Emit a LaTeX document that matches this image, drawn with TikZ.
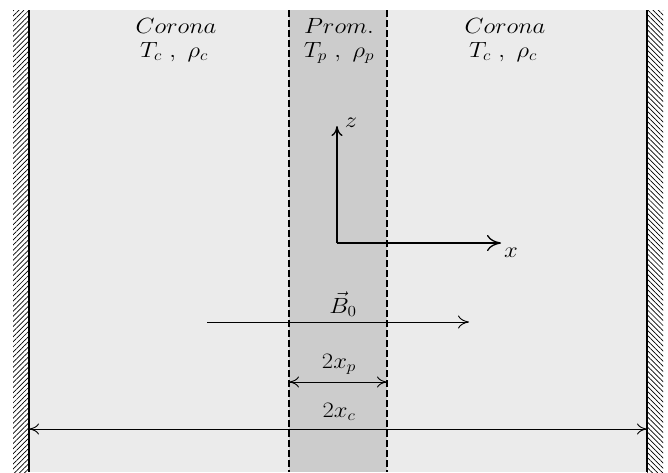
\documentclass[tikz,border=0pt]{standalone}
\usepackage{fix-cm}
\usetikzlibrary{patterns.meta,arrows.meta}
\definecolor{corbg}{HTML}{EBEBEB}
\definecolor{prombg}{HTML}{CCCCCC}
\newcommand{\wtxt}[1]{\scalebox{1.12}[1]{#1}}
\begin{document}
\begin{tikzpicture}[x=1pt,y=-1pt,
  lbl/.style={font=\fontsize{22}{26}\selectfont, inner sep=0pt, anchor=base},
  bnd/.style={dash pattern=on 6.5pt off 3.5pt, line width=1.2pt},
  wall/.style={line width=2pt},
  arr/.style={-{To[length=11pt,width=13pt,open,line width=0.9pt]}, line width=0.9pt},
  darr/.style={{To[length=10pt,width=11pt,open,line width=0.9pt]}-{To[length=10pt,width=11pt,open,line width=0.9pt]}, line width=0.9pt},
  axz/.style={-{To[length=10pt,width=11pt,open,line width=1.3pt]}, line width=1.3pt},
  axx/.style={-{To[length=14pt,width=16pt,open,line width=1.3pt]}, line width=1.3pt},
  hatchl/.style={pattern={Lines[angle=45,distance=3.6pt,line width=0.7pt]}},
  hatchr/.style={pattern={Lines[angle=-45,distance=3.6pt,line width=0.7pt]}}]
\useasboundingbox (0,0) rectangle (668,472);
% backgrounds
\fill[corbg] (29,10) rectangle (647,472);
\fill[prombg] (289,10) rectangle (387,472);
% hatched walls
\fill[hatchl] (13,10) rectangle (29,472);
\fill[hatchr] (647,10) rectangle (663,472);
\draw[wall] (29,10) -- (29,472);
\draw[wall] (647,10) -- (647,472);
% prominence boundaries
\draw[bnd] (289,10) -- (289,472);
\draw[bnd] (387,10) -- (387,472);
% labels
\node[lbl] (cl1) at (176,33) {\wtxt{$Corona$}};
\node[lbl] (cl2) at (174,57) {\wtxt{$T_c\ ,\ \rho_c$}};
\node[lbl] (pm1) at (339,33) {\wtxt{$Prom.$}};
\node[lbl] (pm2) at (339,57) {\wtxt{$T_p\ ,\ \rho_p$}};
\node[lbl] (cr1) at (505,33) {\wtxt{$Corona$}};
\node[lbl] (cr2) at (503,57) {\wtxt{$T_c\ ,\ \rho_c$}};
% axes
\coordinate (O) at (337,243);
\coordinate (zt) at (337,126);
\coordinate (xt) at (501,243);
\draw[axz] (O) -- (zt);
\draw[axx] (O) -- (xt);
\node[lbl] (zl) at (351,127) {\wtxt{$z$}};
\node[lbl] (xl) at (511,257) {\wtxt{$x$}};
% B0
\coordinate (b1) at (207,322);
\coordinate (b2) at (469,322);
\draw[arr] (b1) -- (b2);
\node[lbl] (bl) at (343,313) {\wtxt{$\vec{B}_0$}};
% 2xp
\coordinate (p1) at (289,382);
\coordinate (p2) at (387,382);
\draw[darr] (p1) -- (p2);
\node[lbl] (pl) at (339,368) {\wtxt{$2x_p$}};
% 2xc
\coordinate (c1) at (29,429);
\coordinate (c2) at (647,429);
\draw[darr] (c1) -- (c2);
\node[lbl] (clb) at (339,417) {\wtxt{$2x_c$}};
\end{tikzpicture}
\end{document}
